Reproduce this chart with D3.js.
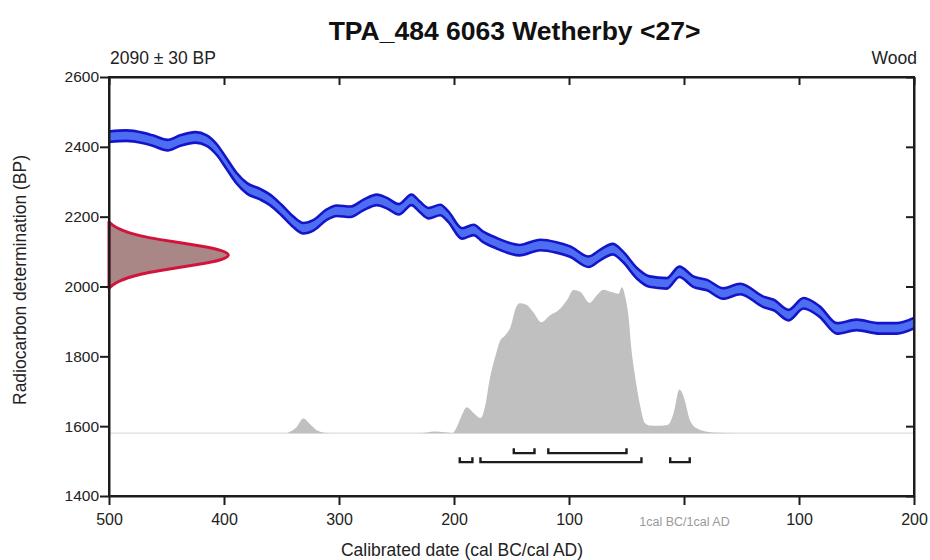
<!DOCTYPE html>
<html>
<head>
<meta charset="utf-8">
<script src="https://cdn.jsdelivr.net/npm/d3@7/dist/d3.min.js"></script>
<style>
  html, body { margin: 0; padding: 0; background: #fff; }
  svg { display: block; font-family: "Liberation Sans", Arial, sans-serif; }
</style>
</head>
<body>
<svg id="chart" width="930" height="560"></svg>
<script>
// ---------- data ----------
const titleText = "TPA_484 6063 Wetherby <27>";
const measLabel = "2090 \u00b1 30 BP";
const materialLabel = "Wood";
const xLabel = "Calibrated date (cal BC/cal AD)";
const yLabel = "Radiocarbon determination (BP)";

const xTicks = [-500, -400, -300, -200, -100, 0, 100, 200];
const yTicks = [1400, 1600, 1800, 2000, 2200, 2400, 2600];

// calibration curve (year, BP), negative = BC
const curveYears = [-500,-485,-470,-462,-449,-438,-425,-415,-406,-398,-389,-380,-369,-360,-350,-340,-331,-322,-311,-302,-290,-279,-267,-258,-248,-237,-230,-222,-212,-205,-193,-183,-175,-163,-151,-143,-125,-111,-99,-83,-73,-62,-53,-41,-30,-15,-4,8,20,34,49,69,78,91,104,118,133,150,170,185,200];
const curveBP    = [2429,2432,2425,2418,2405,2418,2427,2418,2391,2353,2310,2281,2265,2248,2219,2186,2167,2176,2205,2217,2214,2233,2248,2238,2221,2248,2229,2210,2219,2200,2152,2162,2143,2124,2109,2104,2119,2112,2100,2071,2090,2107,2085,2038,2014,2009,2042,2014,2004,1980,1993,1956,1947,1918,1952,1928,1880,1890,1880,1880,1895];
const curveSigma = 15;

// radiocarbon measurement distribution
const measBP   = [1995,2005,2015,2025,2035,2045,2055,2065,2075,2090,2105,2115,2125,2135,2145,2155,2165,2175,2185];
const measProb = [0.0,0.03,0.08,0.15,0.25,0.40,0.58,0.76,0.91,1.0,0.91,0.76,0.58,0.40,0.25,0.15,0.08,0.03,0.0];

// calibrated (posterior) distribution
const postYears = [-345,-337,-331,-325,-318,-308,-230,-217,-208,-201,-198,-193,-189,-183,-177,-173,-169,-164,-160,-156,-151,-146,-143,-137,-131,-124,-117,-108,-102,-96,-90,-82,-76,-70,-63,-57,-54,-51,-48,-46,-43,-38,-34,-30,-21,-14,-9,-4,-1,2,5,11,23,31,45];
const postProb  = [0,0.04,0.10,0.06,0.015,0,0,0.012,0.006,0,0.035,0.126,0.177,0.138,0.103,0.183,0.368,0.528,0.632,0.666,0.724,0.862,0.89,0.88,0.828,0.759,0.804,0.85,0.908,0.981,0.966,0.892,0.942,0.983,0.966,0.954,1.0,0.931,0.781,0.597,0.414,0.183,0.069,0.052,0.05,0.057,0.138,0.299,0.264,0.183,0.092,0.034,0.007,0.003,0];

// highest posterior density ranges
const range68 = [[-148,-130],[-118,-50]];
const range95 = [[-195,-184],[-177,-37],[-12,5]];

// ---------- layout ----------
const svg = d3.select("#chart");
const pL = 109, pR = 914, pT = 77, pB = 496;

const x = d3.scaleLinear().domain([-500, 200]).range([pL, pR]);
const y = d3.scaleLinear().domain([1400, 2600]).range([pB, pT]);

const baseBP = 1580;
const baseY = y(baseBP);
const postH = d3.scaleLinear().domain([0, 1]).range([baseY, baseY - 146]);
const measW = d3.scaleLinear().domain([0, 1]).range([pL, pL + 123]);

const ink = "#1c1c1c";

// baseline of posterior
svg.append("line")
  .attr("x1", pL).attr("x2", pR)
  .attr("y1", baseY).attr("y2", baseY)
  .attr("stroke", "#dcdcdc").attr("stroke-width", 1.2);

// posterior distribution
const postData = postYears.map((d, i) => ({yr: d, p: postProb[i]}));
svg.append("path")
  .datum(postData)
  .attr("fill", "#c0c0c0")
  .attr("d", d3.area().x(d => x(d.yr)).y0(baseY).y1(d => postH(d.p)).curve(d3.curveMonotoneX));

// calibration curve band
const cData = curveYears.map((d, i) => ({yr: d, bp: curveBP[i]}));
const cCurve = d3.curveMonotoneX;
svg.append("path")
  .datum(cData)
  .attr("fill", "#4d6ef2")
  .attr("d", d3.area().x(d => x(d.yr)).y0(d => y(d.bp - curveSigma)).y1(d => y(d.bp + curveSigma)).curve(cCurve));
[-curveSigma, curveSigma].forEach(s => {
  svg.append("path")
    .datum(cData)
    .attr("fill", "none")
    .attr("stroke", "#1414c8")
    .attr("stroke-width", 2.6)
    .attr("d", d3.line().x(d => x(d.yr)).y(d => y(d.bp + s)).curve(cCurve));
});

// measurement distribution
const mData = measBP.map((d, i) => ({bp: d, p: measProb[i]}));
svg.append("path")
  .datum(mData)
  .attr("fill", "#aa8787")
  .attr("stroke", "#d2143c")
  .attr("stroke-width", 3)
  .attr("stroke-linejoin", "round")
  .attr("d", d3.area().y(d => y(d.bp)).x0(pL).x1(d => measW(d.p)).curve(d3.curveBasis));

// range brackets
function brackets(ranges, yy) {
  svg.append("g").selectAll("path")
    .data(ranges).join("path")
    .attr("fill", "none")
    .attr("stroke", ink)
    .attr("stroke-width", 2.4)
    .attr("d", d => `M${x(d[0])},${yy - 5}V${yy}H${x(d[1])}V${yy - 5}`);
}
brackets(range68, baseY + 20);
brackets(range95, baseY + 29);

// frame
svg.append("rect")
  .attr("x", pL).attr("y", pT)
  .attr("width", pR - pL).attr("height", pB - pT)
  .attr("fill", "none").attr("stroke", ink).attr("stroke-width", 2);

// axes
const fmtX = d => d < 0 ? String(-d) : (d > 0 ? String(d) : "1cal BC/1cal AD");

const gB = svg.append("g").attr("transform", `translate(0,${pB})`)
  .call(d3.axisBottom(x).tickValues(xTicks).tickFormat(fmtX).tickSize(9).tickSizeOuter(0).tickPadding(9));
const gL = svg.append("g").attr("transform", `translate(${pL},0)`)
  .call(d3.axisLeft(y).tickValues(yTicks).tickFormat(d3.format("d")).tickSize(9).tickSizeOuter(0).tickPadding(1));
const gT = svg.append("g").attr("transform", `translate(0,${pT})`)
  .call(d3.axisTop(x).tickValues(xTicks).tickFormat("").tickSize(-8).tickSizeOuter(0));
const gR = svg.append("g").attr("transform", `translate(${pR},0)`)
  .call(d3.axisRight(y).tickValues(yTicks).tickFormat("").tickSize(-8).tickSizeOuter(0));

[gB, gL, gT, gR].forEach(g => {
  g.select(".domain").attr("stroke", ink).attr("stroke-width", 2);
  g.selectAll(".tick line").attr("stroke", ink).attr("stroke-width", 2);
  g.selectAll(".tick text").attr("fill", "#222").style("font-size", "15.5px")
    .style("font-family", "'Liberation Sans', Arial, sans-serif");
});
gB.selectAll(".tick text").style("font-size", "16px");
gB.selectAll(".tick text").filter(d => d === 0)
  .style("font-size", "12.5px").attr("fill", "#999").attr("dy", "0.95em");

// texts
svg.append("text")
  .attr("x", (pL + pR) / 2 + 3).attr("y", 40)
  .attr("text-anchor", "middle")
  .style("font-size", "26.5px").style("font-weight", "bold").attr("fill", "#111")
  .text(titleText);
svg.append("text")
  .attr("x", pL + 1).attr("y", 64)
  .style("font-size", "17.5px").attr("fill", "#222")
  .text(measLabel);
svg.append("text")
  .attr("x", pR + 3).attr("y", 64)
  .attr("text-anchor", "end")
  .style("font-size", "17.5px").attr("fill", "#222")
  .text(materialLabel);
svg.append("text")
  .attr("x", 462).attr("y", 556)
  .attr("text-anchor", "middle")
  .style("font-size", "17.5px").attr("fill", "#222")
  .text(xLabel);
svg.append("text")
  .attr("transform", `translate(26,280) rotate(-90)`)
  .attr("text-anchor", "middle")
  .style("font-size", "17.5px").attr("fill", "#222")
  .text(yLabel);
</script>
</body>
</html>
